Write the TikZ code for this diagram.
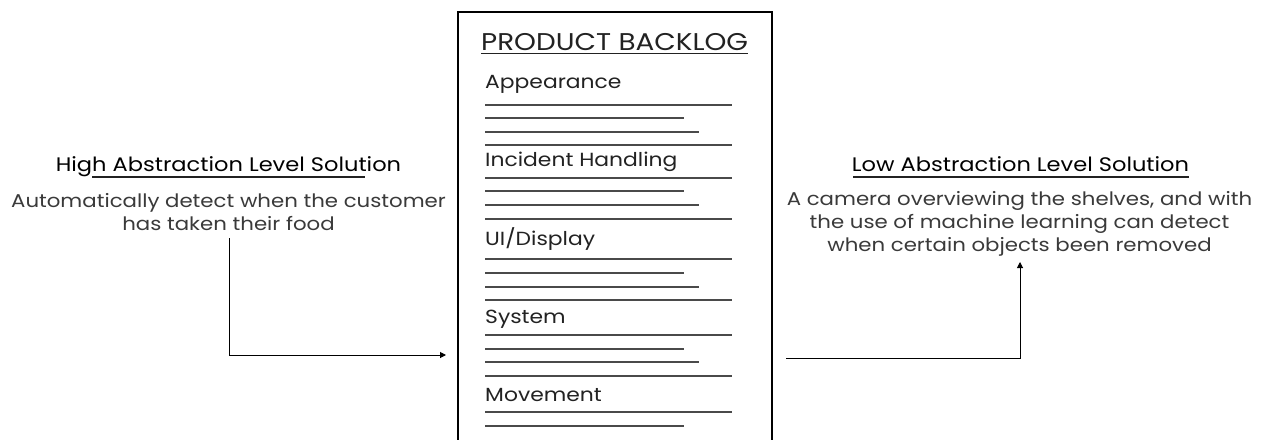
\documentclass[tikz,border=0pt]{standalone}
\usepackage{fontspec}
\setmainfont{Poppins}[FakeStretch=1.15]
\usetikzlibrary{arrows.meta}
\definecolor{txt}{HTML}{222222}
\definecolor{desc}{HTML}{3A3A3A}
\definecolor{rule}{HTML}{4A4A4A}
\tikzset{
  boxframe/.style={draw=black,line width=2.4pt,inner sep=0pt,outer sep=0pt},
  itemlabel/.style={anchor=base west,inner sep=0pt,text=txt,font=\fontsize{19}{22}\selectfont},
  heading/.style={anchor=base,inner sep=0pt,text=black,font=\fontsize{19.6}{22}\selectfont},
  desctext/.style={anchor=base,inner sep=0pt,text=desc,align=center,font=\fontsize{18.5}{23}\selectfont},
  rl/.style={draw=rule,line width=1.3pt},
  ul/.style={draw=txt,line width=1.4pt},
  arr/.style={draw=black,line width=1pt,-{Triangle[length=6pt,width=6pt]}},
}
\begin{document}
\begin{tikzpicture}[x=1pt,y=-1pt]
\clip (0,0) rectangle (1263,439);
\fill[white] (0,0) rectangle (1263,439);
% backlog box
\node[boxframe,anchor=north west,minimum width=314pt,minimum height=460pt] (backlog) at (458,12) {};
\node[anchor=base west,inner sep=0pt,text=txt,font=\fontsize{24.2}{26}\selectfont] (title) at (481,50) {PRODUCT BACKLOG};
\draw[ul] ([yshift=-3.5pt]title.base west) -- ([yshift=-3.5pt]title.base east);
% sections
\node[itemlabel] (s1) at (485,88) {Appearance};
\node[itemlabel] (s2) at (485,166) {Incident Handling};
\node[itemlabel] (s3) at (485,245) {UI/Display};
\node[itemlabel] (s4) at (485,323) {System};
\node[itemlabel] (s5) at (485,401) {Movement};
\foreach \y/\w in {105/247,118/199,132/214,145/247,
                   178/247,191/199,205/214,219/247,
                   259/247,273/199,287/214,300/247,
                   335/247,349/199,362/214,376/247,
                   412/247,426/199}{
  \draw[rl] (485,\y) -- ++(\w,0);
}
% left side
\node[heading] (lh) at (228.5,171) {High Abstraction Level Solution};
\draw[ul] (92,177) -- (365,177);
\node[desctext] (ld) at (228.5,230) {Automatically detect when the customer\\has taken their food};
% right side
\node[heading] (rh) at (1020.5,171) {Low Abstraction Level Solution};
\draw[ul] (853,177) -- (1189,177);
\node[desctext] (rd) at (1019.5,251) {A camera overviewing the shelves, and with\\the use of machine learning can detect\\when certain objects been removed};
% connectors
\coordinate (la) at (229,238);
\coordinate (lb) at (446,355);
\draw[arr] (la) |- (lb);
\coordinate (ra) at (786,358);
\coordinate (rb) at (1020,262);
\draw[arr] (ra) -| (rb);
\end{tikzpicture}
\end{document}
